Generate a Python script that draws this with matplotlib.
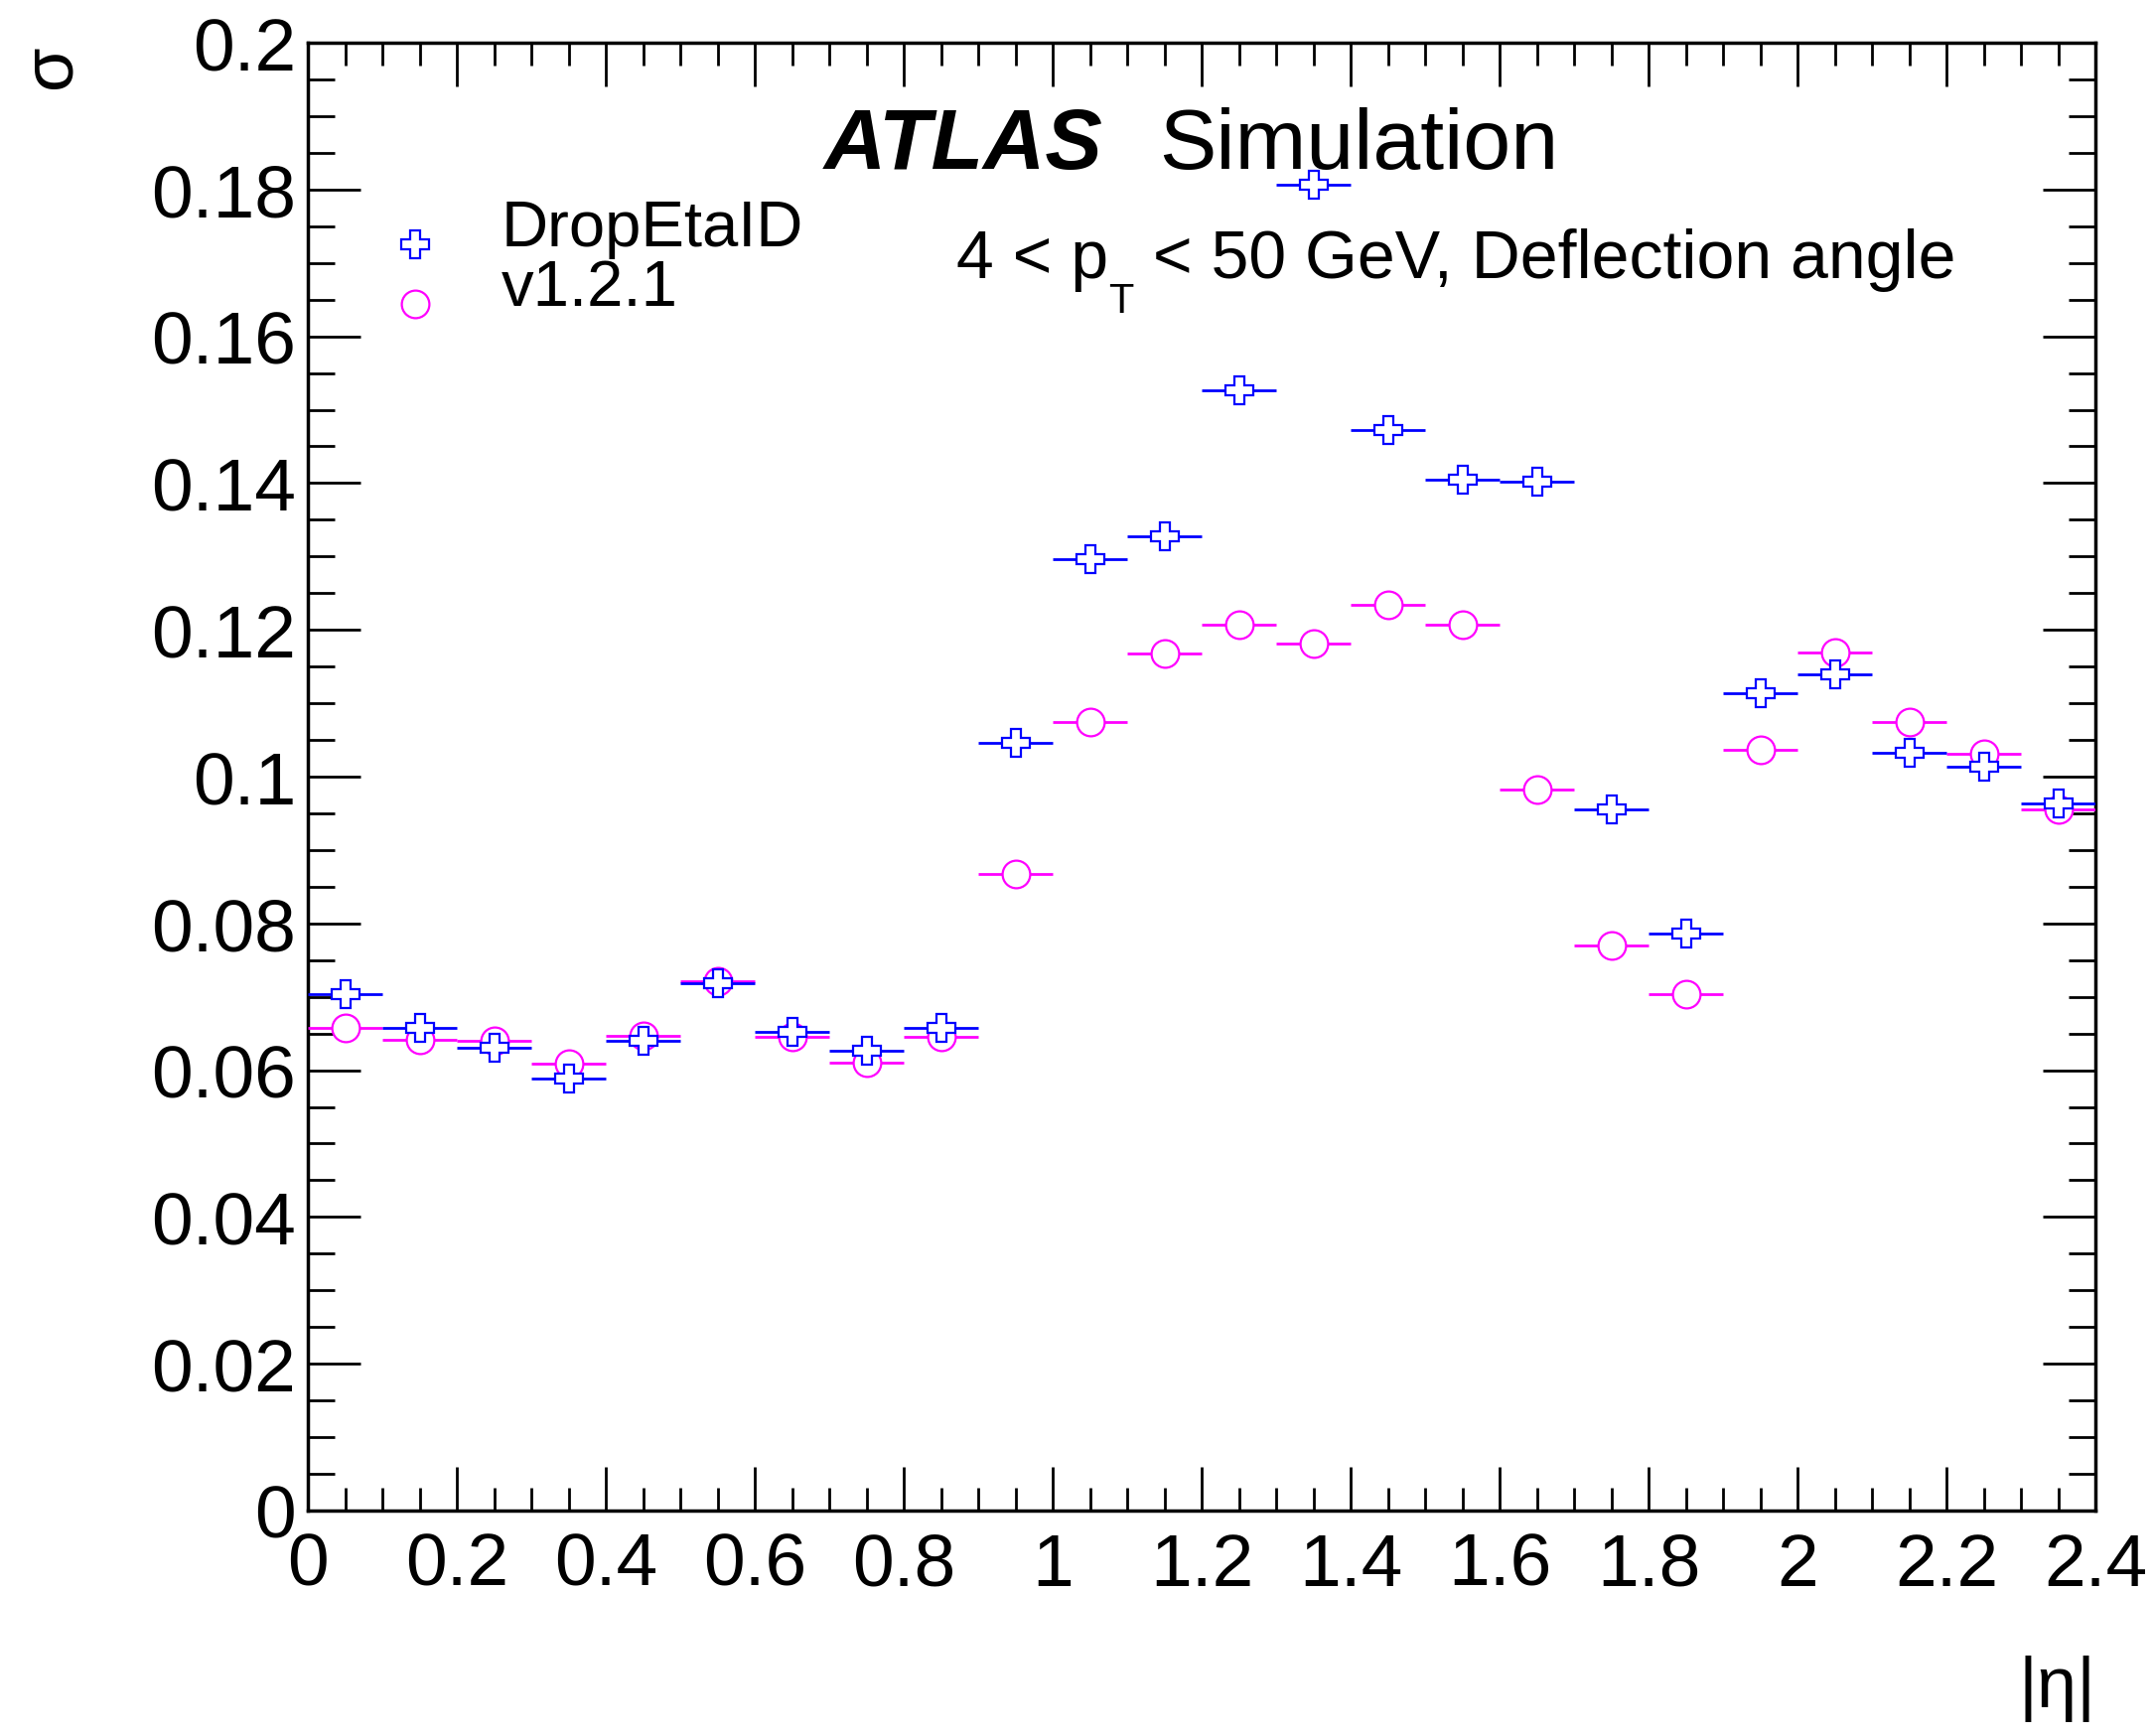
import numpy as np
import matplotlib.pyplot as plt
from matplotlib.lines import Line2D
from matplotlib.ticker import MultipleLocator, FuncFormatter

plt.rcParams['font.family'] = ['Liberation Sans', 'DejaVu Sans']

# |eta| bin centres, bin half width 0.05
eta = [0.05, 0.15, 0.25, 0.35, 0.45, 0.55, 0.65, 0.75, 0.85, 0.95, 1.05, 1.15,
       1.25, 1.35, 1.45, 1.55, 1.65, 1.75, 1.85, 1.95, 2.05, 2.15, 2.25, 2.35]
half_bin = 0.05

# sigma of the deflection angle
drop_eta_id = [0.0703, 0.0658, 0.0630, 0.0588, 0.0640, 0.0719, 0.0652, 0.0627,
               0.0658, 0.1046, 0.1297, 0.1328, 0.1526, 0.1806, 0.1472, 0.1405,
               0.1402, 0.0955, 0.0786, 0.1114, 0.1139, 0.1033, 0.1014, 0.0964]
v121 = [0.0657, 0.0641, 0.0640, 0.0609, 0.0647, 0.0721, 0.0645, 0.0610,
        0.0646, 0.0867, 0.1074, 0.1168, 0.1207, 0.1182, 0.1234, 0.1207,
        0.0982, 0.0770, 0.0704, 0.1036, 0.1169, 0.1075, 0.1031, 0.0955]

labels = ['DropEtaID', 'v1.2.1']
blue = '#0000ff'
magenta = '#ff00ff'

fig = plt.figure(figsize=(21.68, 17.49), dpi=100)
ax = fig.add_axes([0.14299, 0.12979, 0.83026, 0.84505])

ax.errorbar(eta, v121, xerr=half_bin, fmt='o', color=magenta, mfc='white',
            mec=magenta, ms=20, mew=1.6, elinewidth=2, capsize=0, zorder=3)
ax.errorbar(eta, drop_eta_id, xerr=half_bin, fmt='P', color=blue, mfc='white',
            mec=blue, ms=20, mew=1.6, elinewidth=2, capsize=0, zorder=4)

ax.set_xlim(0, 2.4)
ax.set_ylim(0, 0.2)

fmt = FuncFormatter(lambda v, p: f'{round(v, 6):g}')
ax.xaxis.set_major_locator(MultipleLocator(0.2))
ax.xaxis.set_minor_locator(MultipleLocator(0.05))
ax.yaxis.set_major_locator(MultipleLocator(0.02))
ax.yaxis.set_minor_locator(MultipleLocator(0.005))
ax.xaxis.set_major_formatter(fmt)
ax.yaxis.set_major_formatter(fmt)

ax.tick_params(which='both', direction='in', top=True, right=True, width=2)
ax.tick_params(axis='x', which='major', length=31.7, pad=15, labelsize=54)
ax.tick_params(axis='x', which='minor', length=16.5)
ax.tick_params(axis='y', which='major', length=38, pad=8.6, labelsize=54)
ax.tick_params(axis='y', which='minor', length=19.4)
for s in ax.spines.values():
    s.set_linewidth(2.5)

ax.set_ylabel('σ', fontsize=52, loc='top')
ax.yaxis.set_label_coords(-0.1245, 1.0)
ax.set_xlabel('|η|', fontsize=52, loc='right')
ax.xaxis.set_label_coords(1.0, -0.098)

# ATLAS label
ax.text(0.2889, 0.9147, 'ATLAS', transform=ax.transAxes, fontsize=62,
        fontweight='bold', fontstyle='italic', va='baseline')
ax.text(0.4761, 0.9147, 'Simulation', transform=ax.transAxes, fontsize=62,
        va='baseline')

# 4 < pT < 50 GeV, ROOT style subscript
t1 = ax.text(0.3628, 0.8403, '4 < p', transform=ax.transAxes, fontsize=49,
             va='baseline')
t2 = ax.annotate('T', xy=(1, 0), xycoords=t1, xytext=(0, -21.6),
                 textcoords='offset points', fontsize=30, va='bottom')
ax.annotate(' < 50 GeV, Deflection angle', xy=(1, 0), xycoords=t2,
            xytext=(0, 21.6), textcoords='offset points', fontsize=49,
            va='bottom')

handles = [
    Line2D([], [], ls='none', marker='P', ms=20, mfc='white', mec=blue, mew=1.6),
    Line2D([], [], ls='none', marker='o', ms=20, mfc='white', mec=magenta, mew=1.6),
]
leg = ax.legend(handles, labels, loc='upper left', bbox_to_anchor=(0.0456, 0.8938),
                frameon=False, fontsize=47, handlelength=0.8, handletextpad=0.92,
                labelspacing=0, borderpad=0, borderaxespad=0, handleheight=0.3)
# ROOT puts the legend markers lower, near the text baseline
for h in leg.legend_handles:
    h.set_ydata(np.asarray(h.get_ydata()) - 13)

fig.savefig('out.png', dpi=100)
